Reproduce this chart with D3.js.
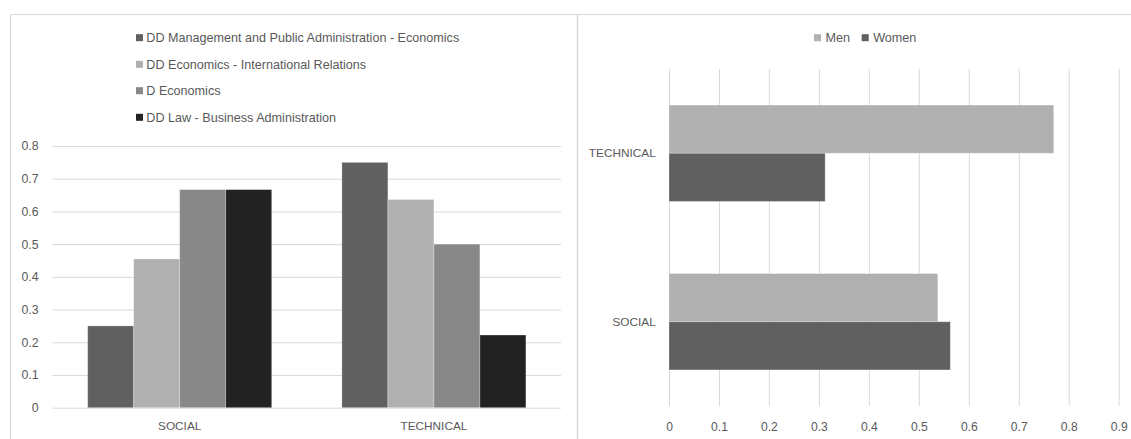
<!DOCTYPE html>
<html>
<head>
<meta charset="utf-8">
<script src="https://cdn.jsdelivr.net/npm/d3@7/dist/d3.min.js"></script>
<style>
  html, body { margin: 0; padding: 0; background: #fff; }
  svg { display: block; }
  text { font-family: "Liberation Sans", Arial, sans-serif; fill: #595959; }
</style>
</head>
<body>
<svg id="chart" width="1131" height="439"></svg>
<script>
// ---------- Data: left chart ----------
const leftCategories = ["SOCIAL", "TECHNICAL"];
const leftSeries = [
  "DD Management and Public Administration - Economics",
  "DD Economics - International Relations",
  "D Economics",
  "DD Law - Business Administration"
];
const leftColors = ["#606060", "#b0b0b0", "#888888", "#222222"];
// values per series, in category order [SOCIAL, TECHNICAL]
const leftValuesMgmt  = [0.25,   0.75];
const leftValuesIntl  = [0.4545, 0.6364];
const leftValuesEcon  = [0.6667, 0.5];
const leftValuesLaw   = [0.6667, 0.2222];
const leftTicks = [0, 0.1, 0.2, 0.3, 0.4, 0.5, 0.6, 0.7, 0.8];

// ---------- Data: right chart ----------
const rightCategories = ["TECHNICAL", "SOCIAL"];
const rightSeries = ["Men", "Women"];
const rightColors = ["#b0b0b0", "#606060"];
// values in category order [TECHNICAL, SOCIAL]
const rightValuesMen   = [0.77,   0.538];
const rightValuesWomen = [0.3125, 0.563];
const rightTicks = [0, 0.1, 0.2, 0.3, 0.4, 0.5, 0.6, 0.7, 0.8, 0.9];

const fmt = d => d3.format("~g")(d);
const svg = d3.select("#chart");
const FONT = '"Liberation Sans", Arial, sans-serif';

// ---------- Panel borders ----------
const border = "#d9d9d9";
svg.append("line").attr("x1", 10.5).attr("x2", 1131).attr("y1", 14.5).attr("y2", 14.5).attr("stroke", border);
svg.append("line").attr("x1", 10.5).attr("x2", 10.5).attr("y1", 14.5).attr("y2", 439).attr("stroke", border);
svg.append("line").attr("x1", 577.5).attr("x2", 577.5).attr("y1", 14.5).attr("y2", 439).attr("stroke", border).attr("stroke-width", 1.5);

// ---------- Left chart ----------
(function () {
  const L = { left: 52.6, right: 561, top: 146, bottom: 407.7 };
  const y = d3.scaleLinear().domain([0, 0.8]).range([L.bottom, L.top]);
  const x0 = d3.scaleBand().domain(leftCategories).range([L.left, L.right]).padding(0);
  const x1 = d3.scaleBand().domain(leftSeries).range([0, x0.bandwidth()]).paddingInner(0).paddingOuter(0.763);
  const values = [leftValuesMgmt, leftValuesIntl, leftValuesEcon, leftValuesLaw];

  const g = svg.append("g");
  // gridlines + tick labels
  const yAxis = d3.axisLeft(y).tickValues(leftTicks).tickFormat(fmt)
    .tickSize(-(L.right - L.left)).tickPadding(14);
  const ga = g.append("g").attr("transform", `translate(${L.left},0)`).call(yAxis);
  ga.select(".domain").remove();
  ga.selectAll(".tick line").attr("stroke", "#d9d9d9");
  ga.selectAll(".tick text").attr("fill", "#595959").style("font-size", "12.3px").style("font-family", FONT);

  // bars
  leftSeries.forEach((s, si) => {
    g.append("g").selectAll("rect").data(leftCategories.map((c, ci) => ({ c, v: values[si][ci] })))
      .join("rect")
      .attr("x", d => x0(d.c) + x1(s))
      .attr("width", x1.bandwidth())
      .attr("y", d => y(d.v))
      .attr("height", d => y(0) - y(d.v))
      .attr("fill", leftColors[si])
      .attr("stroke", "#ffffff").attr("stroke-opacity", 0.35).attr("stroke-width", 0.8);
  });

  // category axis
  const xAxis = d3.axisBottom(x0).tickSize(0).tickPadding(14);
  const gx = g.append("g").attr("transform", `translate(0,${L.bottom})`).call(xAxis);
  gx.select(".domain").remove();
  gx.selectAll(".tick text").attr("fill", "#595959").style("font-size", "11.8px").style("font-family", FONT);

  // legend
  const legY = [37.7, 64.3, 90.7, 117.3];
  const lg = g.append("g");
  leftSeries.forEach((s, i) => {
    lg.append("rect").attr("x", 136).attr("y", legY[i] - 3.5).attr("width", 7).attr("height", 7).attr("fill", leftColors[i]);
    lg.append("text").attr("x", 146.3).attr("y", legY[i]).attr("dy", "0.35em")
      .style("font-size", "12.6px").text(s);
  });
})();

// ---------- Right chart ----------
(function () {
  const R = { left: 669, right: 1118.7, top: 69, bottom: 406 };
  const x = d3.scaleLinear().domain([0, 0.9]).range([R.left, R.right]);
  const y0 = d3.scaleBand().domain(rightCategories).range([R.top, R.bottom]).padding(0);
  const y1 = d3.scaleBand().domain(rightSeries).range([0, y0.bandwidth()]).paddingInner(0).paddingOuter(0.748);
  const values = [rightValuesMen, rightValuesWomen];

  const g = svg.append("g");
  const xAxis = d3.axisBottom(x).tickValues(rightTicks).tickFormat(fmt)
    .tickSize(-(R.bottom - R.top)).tickPadding(16.5);
  const gx = g.append("g").attr("transform", `translate(0,${R.bottom})`).call(xAxis);
  gx.select(".domain").remove();
  gx.selectAll(".tick line").attr("stroke", "#d9d9d9");
  gx.selectAll(".tick text").attr("fill", "#595959").style("font-size", "12.1px").style("font-family", FONT);

  rightSeries.forEach((s, si) => {
    g.append("g").selectAll("rect").data(rightCategories.map((c, ci) => ({ c, v: values[si][ci] })))
      .join("rect")
      .attr("x", x(0))
      .attr("y", d => y0(d.c) + y1(s))
      .attr("height", y1.bandwidth())
      .attr("width", d => x(d.v) - x(0))
      .attr("fill", rightColors[si])
      .attr("stroke", "#ffffff").attr("stroke-opacity", 0.35).attr("stroke-width", 0.8);
  });

  const yAxis = d3.axisLeft(y0).tickSize(0).tickPadding(13.3);
  const gy = g.append("g").attr("transform", `translate(${R.left},0)`).call(yAxis);
  gy.select(".domain").remove();
  gy.selectAll(".tick text").attr("fill", "#595959").style("font-size", "11.8px").style("font-family", FONT);

  // legend
  const legX = [814, 861.7];
  rightSeries.forEach((s, i) => {
    g.append("rect").attr("x", legX[i]).attr("y", 37.7 - 3.5).attr("width", 7).attr("height", 7).attr("fill", rightColors[i]);
    g.append("text").attr("x", legX[i] + 11.5).attr("y", 37.7).attr("dy", "0.35em")
      .style("font-size", "12.6px").text(s);
  });
})();
</script>
</body>
</html>
